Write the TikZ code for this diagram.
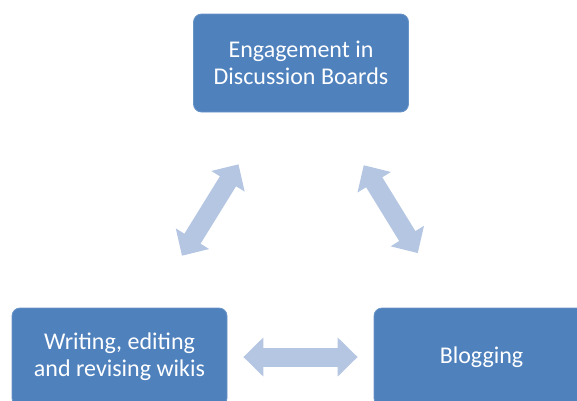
\documentclass[tikz,border=0pt]{standalone}
\usepackage{fontspec}
\setmainfont{Carlito}
\usetikzlibrary{arrows.meta}

\definecolor{boxblue}{RGB}{79,129,189}
\definecolor{arrowblue}{RGB}{180,198,226}

\tikzstyle{block} = [rectangle, fill=boxblue, draw=boxblue!85!white, line width=0.8pt, rounded corners=8pt, minimum width=215pt, minimum height=98pt, inner sep=0pt, text=white, align=center, font=\fontsize{24}{27}\selectfont]
\tikzstyle{dblarrow} = [draw=arrowblue, line width=19pt, {Triangle[width=38pt,length=20pt]}-{Triangle[width=38pt,length=20pt]}]

\begin{document}
\begin{tikzpicture}[x=1pt, y=-1pt]
        \useasboundingbox (0,0) rectangle (577,400);
        % Activity nodes
        \node (discuss) at (301,63) [block] {Engagement in\\Discussion Boards};
        \node (wikis) at (119.5,357) [block] {Writing, editing\\and revising wikis};
        \node (blog) at (481.5,357) [block] {Blogging};
        % Two-way arrows between the activities
        \draw[dblarrow, shorten <=61pt, shorten >=61pt] (discuss) -- (wikis);
        \draw[dblarrow, shorten <=62pt, shorten >=64pt] (discuss) -- (blog);
        \draw[dblarrow, shorten <=16pt, shorten >=16pt] (wikis) -- (blog);
    \end{tikzpicture}
\end{document}
